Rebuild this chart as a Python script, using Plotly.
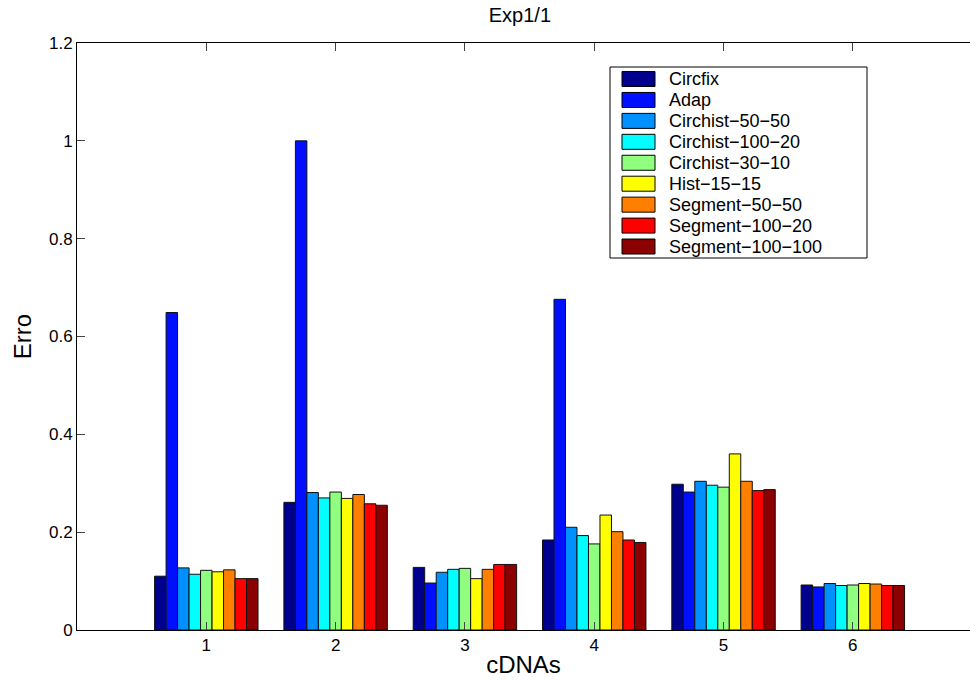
import plotly.graph_objects as go

categories = [1, 2, 3, 4, 5, 6]
series_names = ["Circfix", "Adap", "Circhist−50−50", "Circhist−100−20", "Circhist−30−10",
                "Hist−15−15", "Segment−50−50", "Segment−100−20", "Segment−100−100"]
circfix = [0.110, 0.261, 0.128, 0.184, 0.298, 0.092]
adap = [0.649, 1.000, 0.096, 0.676, 0.282, 0.088]
circhist_50_50 = [0.127, 0.281, 0.118, 0.210, 0.304, 0.095]
circhist_100_20 = [0.114, 0.270, 0.124, 0.193, 0.296, 0.091]
circhist_30_10 = [0.122, 0.282, 0.126, 0.176, 0.292, 0.092]
hist_15_15 = [0.119, 0.269, 0.105, 0.235, 0.360, 0.095]
segment_50_50 = [0.123, 0.277, 0.124, 0.201, 0.304, 0.094]
segment_100_20 = [0.105, 0.258, 0.134, 0.184, 0.285, 0.091]
segment_100_100 = [0.105, 0.255, 0.134, 0.179, 0.287, 0.091]
series_values = [circfix, adap, circhist_50_50, circhist_100_20, circhist_30_10,
                 hist_15_15, segment_50_50, segment_100_20, segment_100_100]
colors = ["#00008F", "#0010FF", "#0090FF", "#00FFFF", "#90FF80",
          "#FFFF00", "#FF8000", "#FF0000", "#8B0000"]
y_ticks = [0, 0.2, 0.4, 0.6, 0.8, 1.0, 1.2]
y_ticktext = ["0", "0.2", "0.4", "0.6", "0.8", "1", "1.2"]

FONT = "Liberation Sans, Arial, Helvetica, sans-serif"
W, H = 970, 680
ML, MR, MT, MB = 77, 0, 43, 50
PW, PH = W - ML - MR, H - MT - MB


def px_x(px):
    return (px - ML) / PW


def px_y(py):
    return (H - MB - py) / PH


fig = go.Figure()
for name, vals, col in zip(series_names, series_values, colors):
    fig.add_trace(go.Bar(x=categories, y=vals, name=name, showlegend=False,
                         marker=dict(color=col, line=dict(color="#111111", width=1))))

# legend box (drawn like the MATLAB legend: wide swatches)
shapes = [dict(type="rect", xref="paper", yref="paper",
               x0=px_x(610), x1=px_x(867), y0=px_y(258), y1=px_y(67),
               line=dict(color="black", width=1), fillcolor="white", layer="above")]
annotations = []
step = 20.94
for i, (name, col) in enumerate(zip(series_names, colors)):
    cy = 79 + i * step
    shapes.append(dict(type="rect", xref="paper", yref="paper",
                       x0=px_x(622), x1=px_x(655), y0=px_y(cy + 7.5), y1=px_y(cy - 7.5),
                       line=dict(color="black", width=1), fillcolor=col, layer="above"))
    annotations.append(dict(text=name, xref="paper", yref="paper", x=px_x(667), y=px_y(cy),
                            xanchor="left", yanchor="middle", showarrow=False,
                            font=dict(size=18, family=FONT, color="black")))

fig.update_layout(
    width=W, height=H,
    margin=dict(l=ML, r=MR, t=MT, b=MB, pad=0),
    paper_bgcolor="white", plot_bgcolor="white",
    barmode="group", bargap=0.2, bargroupgap=0,
    font=dict(family=FONT, color="black", size=17),
    title=dict(text="Exp1/1", x=0.536, xanchor="center", y=1 - 15 / H, yanchor="middle",
               font=dict(size=20, family=FONT, color="black")),
    shapes=shapes, annotations=annotations,
    xaxis=dict(range=[0, 6.906], tickvals=categories, ticks="inside", ticklen=8,
               showline=True, linecolor="black", linewidth=1, mirror="ticks",
               showgrid=False, zeroline=False, tickfont=dict(size=17),
               title=dict(text="cDNAs", font=dict(size=24), standoff=1)),
    yaxis=dict(range=[0, 1.2], tickvals=y_ticks, ticktext=y_ticktext, ticks="inside", ticklen=8,
               showline=True, linecolor="black", linewidth=1, mirror=False,
               showgrid=False, zeroline=False, tickfont=dict(size=17),
               title=dict(text="Erro", font=dict(size=24), standoff=10)),
)

fig.write_html("out.html")
